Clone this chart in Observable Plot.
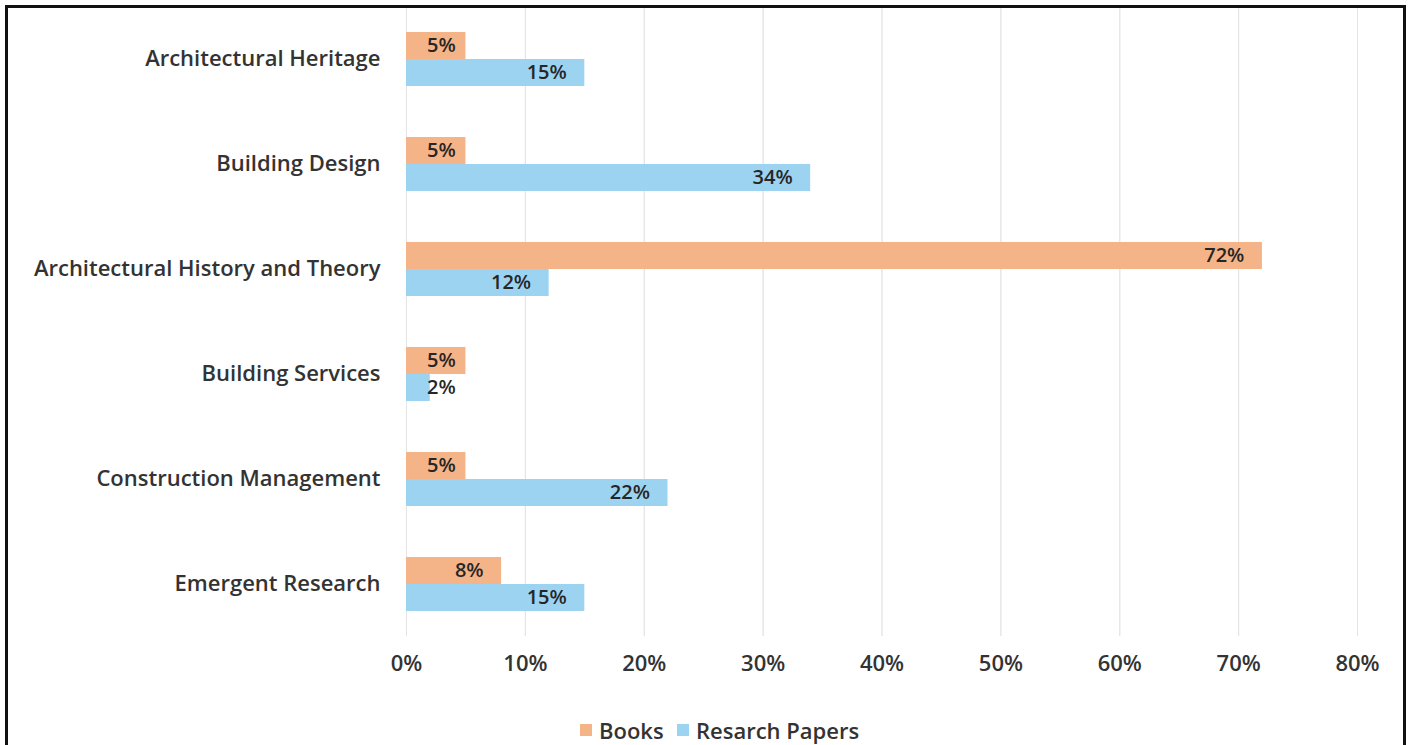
<!DOCTYPE html>
<html>
<head>
<meta charset="utf-8">
<script src="https://cdn.jsdelivr.net/npm/d3@7"></script>
<script src="https://cdn.jsdelivr.net/npm/@observablehq/plot@0.6"></script>
<style>
  html, body { margin: 0; padding: 0; background: #fff; overflow: hidden; }
  body { width: 1409px; height: 745px; position: relative; font-family: "Open Sans", Lato, sans-serif; }
  #chart { position: absolute; left: 0; top: 0; }
  #border { position: absolute; left: 5px; top: 5px; width: 1401px; height: 800px; box-sizing: border-box; border: 3px solid #111; pointer-events: none; }
  #legend { position: absolute; top: 715px; left: 0; width: 1409px; font-size: 22px; font-weight: 600; color: #333; }
  .item { position: absolute; display: flex; align-items: center; }
  .sw { width: 12px; height: 12px; margin-right: 7px; }
</style>
</head>
<body>
<div id="chart"></div>
<div id="legend"></div>
<div id="border"></div>
<script>
const categories = ["Architectural Heritage", "Building Design", "Architectural History and Theory", "Building Services", "Construction Management", "Emergent Research"];
const series = ["Books", "Resarch Papers"];
const books = [0.05, 0.05, 0.72, 0.05, 0.05, 0.08];
const papers = [0.15, 0.34, 0.12, 0.02, 0.22, 0.15];
const xTicks = [0, 0.1, 0.2, 0.3, 0.4, 0.5, 0.6, 0.7, 0.8];
const colors = ["#F5B388", "#9CD3F1"];

const data = [];
categories.forEach((c, i) => {
  data.push({category: c, series: series[0], value: books[i]});
  data.push({category: c, series: series[1], value: papers[i]});
});

const chart = Plot.plot({
  width: 1409,
  height: 700,
  marginLeft: 406,
  marginRight: 52,
  marginTop: 6,
  marginBottom: 64,
  style: {fontFamily: "'Open Sans', Lato, sans-serif", fontSize: "22px", fontWeight: 600, color: "#333", background: "transparent"},
  x: {domain: [0, 0.8], ticks: xTicks, tickFormat: d => Math.round(d * 100) + "%", tickSize: 0, tickPadding: 19, grid: true, label: null},
  fy: {domain: categories, padding: 0, axis: "left", tickSize: 0, tickPadding: 26, label: null},
  y: {domain: series, axis: null, paddingInner: 0, paddingOuter: 0.94},
  color: {domain: series, range: colors},
  marks: [
    Plot.ruleX(xTicks, {x: d => d, stroke: "#e4e4e4", strokeOpacity: 1}),
    Plot.barX(data, {x: "value", y: "series", fy: "category", fill: "series"}),
    Plot.text(data, {
      x: d => Math.max(d.value, 0.0565), y: "series", fy: "category",
      text: d => Math.round(d.value * 100) + "%",
      textAnchor: "end", dx: -18, fill: "#262626", fontSize: 20, fontWeight: 600
    })
  ]
});
document.getElementById("chart").appendChild(chart);

const legend = document.getElementById("legend");
const legendX = [580, 677];
series.forEach((s, i) => {
  const item = document.createElement("div");
  item.className = "item";
  item.style.left = legendX[i] + "px";
  const sw = document.createElement("div");
  sw.className = "sw";
  sw.style.background = colors[i];
  const t = document.createElement("span");
  t.textContent = s;
  item.appendChild(sw);
  item.appendChild(t);
  legend.appendChild(item);
});
</script>
</body>
</html>
